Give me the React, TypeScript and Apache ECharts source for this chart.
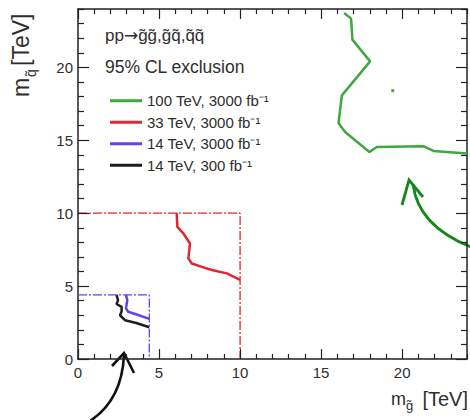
import React, { useEffect, useRef } from "react";
import * as echarts from "echarts";

const seriesNames = [
  "100 TeV, 3000 fb⁻¹",
  "33 TeV, 3000 fb⁻¹",
  "14 TeV, 3000 fb⁻¹",
  "14 TeV, 300 fb⁻¹",
];
const seriesColors = ["#3fa83f", "#e0262e", "#6a3ff0", "#1e1e1e"];

const curve100: number[][] = [
  [16.42, 23.72], [16.85, 23.34], [16.93, 21.9], [18.02, 20.41], [16.28, 18.08],
  [16.07, 16.18], [16.48, 15.57], [17.98, 14.2], [18.44, 14.54], [21.31, 14.59],
  [21.93, 14.27], [24, 14.09],
];
const curve33: number[][] = [
  [6.09, 10], [6.13, 9.06], [6.5, 8.61], [6.91, 7.92], [6.81, 6.9], [7.02, 6.55],
  [7.64, 6.32], [8.25, 6.1], [9.18, 5.87], [10, 5.42],
];
const curve14high: number[][] = [
  [2.96, 4.4], [3.04, 4.04], [2.96, 3.47], [3.1, 3.24], [3.62, 3.05], [4.4, 2.75],
];
const curve14low: number[][] = [
  [2.38, 4.4], [2.47, 4.02], [2.38, 3.77], [2.69, 3.58], [2.69, 3.25], [2.59, 3.0],
  [2.9, 2.66], [3.6, 2.47], [4.4, 2.18],
];
const limit33: number[][] = [[0, 10], [10, 10], [10, 0]];
const limit14: number[][] = [[0, 4.4], [4.4, 4.4], [4.4, 0]];
const strayPoint: number[][] = [[19.42, 18.4]];

// tick positions (same on both axes), labelled every 5
const tickValues = [0, 1, 2, 3, 4, 5, 6, 7, 8, 9, 10, 11, 12, 13, 14, 15, 16, 17, 18, 19, 20, 21, 22, 23, 24];

const axisMin = 0;
const axisMax = 24;
const majorStep = 5;
const minorStep = 1;
// tick lengths in axis units
const xTickMajor = 0.68;
const xTickMinor = 0.34;
const yTickMajor = 0.68;
const yTickMinor = 0.37;

const FONT = '"Liberation Sans", Arial, Helvetica, sans-serif';
const TEXT = "#2e2e2e";
const FRAME = "#222";

function makeAxis(position: string, labels: boolean, margin: number) {
  return {
    type: "value",
    min: axisMin,
    max: axisMax,
    interval: minorStep,
    position,
    axisLine: { show: true, onZero: false, lineStyle: { color: FRAME, width: 1.5 } },
    splitLine: { show: false },
    axisTick: { show: false },
    axisLabel: labels
      ? {
          show: true,
          interval: 0,
          margin,
          fontSize: 15,
          fontFamily: FONT,
          color: TEXT,
          formatter: (v: number) => (v % majorStep === 0 ? String(v) : ""),
        }
      : { show: false },
  };
}

export default function App() {
  const ref = useRef<HTMLDivElement>(null);
  useEffect(() => {
    if (!ref.current) return;
    const chart = echarts.init(ref.current, undefined, { renderer: "svg" });
    const curves = [curve100, curve33, curve14high, curve14low];

    const tickSegments: any[] = [];
    tickValues.forEach((v) => {
      const major = v % majorStep === 0;
      const xl = major ? xTickMajor : xTickMinor;
      const yl = major ? yTickMajor : yTickMinor;
      tickSegments.push(
        [{ coord: [v, axisMin] }, { coord: [v, axisMin + xl] }],
        [{ coord: [v, axisMax] }, { coord: [v, axisMax - xl] }],
        [{ coord: [axisMin, v] }, { coord: [axisMin + yl, v] }],
        [{ coord: [axisMax, v] }, { coord: [axisMax - yl, v] }],
      );
    });

    const graphic: any[] = [
      {
        type: "text", x: 105, y: 35,
        style: {
          text: "pp{a|→}g̃g̃,g̃q̃,q̃q̃", fontSize: 17, fontFamily: FONT, fill: TEXT, verticalAlign: "middle",
          rich: { a: { fontFamily: '"DejaVu Sans", sans-serif', fontSize: 17, fill: TEXT } },
        },
      },
      {
        type: "text", x: 105, y: 67,
        style: { text: "95% CL exclusion", fontSize: 17.5, fontFamily: FONT, fill: TEXT, verticalAlign: "middle" },
      },
      { type: "text", x: 391, y: 399, style: { text: "m", fontSize: 18, fontFamily: FONT, fill: TEXT, verticalAlign: "middle" } },
      { type: "text", x: 406, y: 405, style: { text: "g̃", fontSize: 13, fontFamily: FONT, fill: TEXT, verticalAlign: "middle" } },
      {
        type: "text", x: 468, y: 399,
        style: { text: "[TeV]", fontSize: 20, fontFamily: FONT, fill: TEXT, align: "right", verticalAlign: "middle" },
      },
      {
        type: "group", x: 21, y: 97, rotation: Math.PI / 2,
        children: [
          { type: "text", x: 0, y: 0, style: { text: "m", fontSize: 23, fontFamily: FONT, fill: TEXT, verticalAlign: "middle" } },
          { type: "text", x: 20, y: 10, style: { text: "q̃", fontSize: 14, fontFamily: FONT, fill: TEXT, verticalAlign: "middle" } },
          { type: "text", x: 31, y: 0, style: { text: "[TeV]", fontSize: 23, fontFamily: FONT, fill: TEXT, verticalAlign: "middle" } },
        ],
      },
      {
        type: "bezierCurve",
        shape: { x1: 90, y1: 421, cpx1: 122, cpy1: 400, x2: 124, y2: 355 },
        style: { stroke: "#111", lineWidth: 2.6, fill: "none" },
      },
      {
        type: "polyline",
        shape: { points: [[112, 366], [124, 353], [134, 373]] },
        style: { stroke: "#111", lineWidth: 2.6, fill: "none" },
      },
      {
        type: "bezierCurve",
        shape: { x1: 471, y1: 247, cpx1: 418, cpy1: 226, x2: 413, y2: 184 },
        style: { stroke: "#16881a", lineWidth: 2.8, fill: "none" },
      },
      {
        type: "polyline",
        shape: { points: [[402, 205], [409, 180], [423, 197]] },
        style: { stroke: "#16881a", lineWidth: 2.8, fill: "none" },
      },
    ];

    const option: any = {
      animation: false,
      backgroundColor: "#ffffff",
      grid: { left: 78, right: 3, top: 9, bottom: 61, show: false },
      xAxis: [makeAxis("bottom", true, 6), makeAxis("top", false, 0)],
      yAxis: [makeAxis("left", true, 5), makeAxis("right", false, 0)],
      legend: {
        data: seriesNames,
        orient: "vertical",
        left: 105,
        top: 85,
        icon: "rect",
        itemWidth: 32,
        itemHeight: 3,
        itemGap: 0,
        selectedMode: false,
        textStyle: { fontSize: 15, lineHeight: 21.5, color: TEXT, fontFamily: FONT },
      },
      series: [
        ...curves.map((c, i) => ({
          name: seriesNames[i],
          type: "line",
          data: c,
          showSymbol: false,
          color: seriesColors[i],
          lineStyle: { color: seriesColors[i], width: 2.5 },
          z: 3,
        })),
        {
          name: "limit33", type: "line", data: limit33, showSymbol: false,
          lineStyle: { color: "#e0262e", width: 1.3, type: [9, 2, 2, 2] },
        },
        {
          name: "limit14", type: "line", data: limit14, showSymbol: false,
          lineStyle: { color: "#6a3ff0", width: 1.3, type: [9, 2, 2, 2] },
          markLine: {
            silent: true,
            symbol: ["none", "none"],
            label: { show: false },
            lineStyle: { color: FRAME, width: 1.2, type: "solid" },
            emphasis: { disabled: true },
            data: tickSegments,
          },
        },
        {
          name: "dot", type: "scatter", data: strayPoint, symbol: "rect", symbolSize: 3,
          itemStyle: { color: "#1f8f1f" },
        },
      ],
      graphic,
    };
    chart.setOption(option);
    return () => chart.dispose();
  }, []);
  return <div ref={ref} style={{ position: "absolute", left: 0, top: 0, width: 470, height: 420 }} />;
}
